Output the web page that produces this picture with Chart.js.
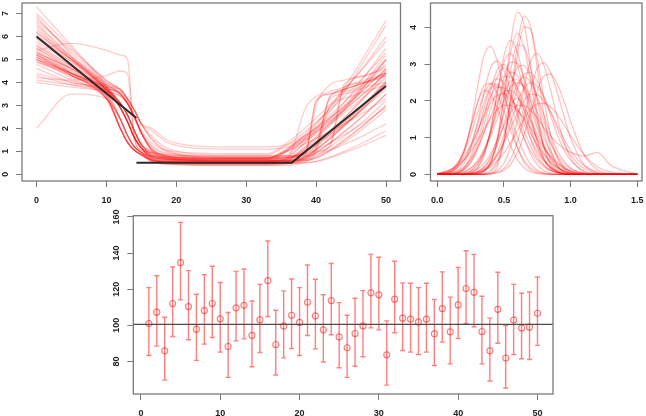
<!DOCTYPE html>
<html>
<head>
<meta charset="utf-8">
<script src="https://cdn.jsdelivr.net/npm/chart.js@4.4.1/dist/chart.umd.min.js"></script>
<style>
  html, body { margin: 0; padding: 0; background: #fff; }
  body { width: 646px; height: 416px; position: relative; overflow: hidden; }
  canvas { position: absolute; }
</style>
</head>
<body>
<canvas id="warp" width="410" height="208" style="left:0;top:0;width:410px;height:208px"></canvas>
<canvas id="dens" width="236" height="208" style="left:410px;top:0;width:236px;height:208px"></canvas>
<canvas id="err" width="470" height="208" style="left:100px;top:208px;width:470px;height:208px"></canvas>
<script>
// ---- panel 1: warped curves + template ----
const warpX = [0, 5, 10, 12, 13, 14, 15, 16.5, 19, 27, 33, 36, 38.5, 40, 42, 44, 47, 50];
const warpCurves = [
  [6.0,4.9,3.7,2.9,2.3,1.6,1.15,.75,.61,.55,.55,.66,1.11,1.45,1.94,2.46,3.36,4.3],
  [5.2,4.4,3.5,2.4,1.7,1.2,.95,.75,.65,.6,.6,.6,.8,1.1,1.56,2.09,2.94,3.9],
  [7.3,5.6,4.0,3.5,3.1,2.5,1.8,1.1,.77,.65,.65,.75,1.05,3.2,3.5,3.7,4.0,4.4],
  [5.0,4.4,3.7,3.1,2.6,1.9,1.3,.95,.78,.7,.7,1.15,1.69,2.06,2.58,3.14,4.04,5.0],
  [2.0,3.5,3.3,2.0,1.4,1.05,.85,.62,.54,.5,.5,.5,.5,.56,.76,1.0,1.42,1.9],
  [6.5,5.1,3.8,2.4,1.7,1.2,.95,.6,.5,.45,.45,.59,1.13,1.54,2.13,2.77,3.86,5.0],
  [5.4,5.7,5.4,5.2,5.05,1.6,1.05,.95,.85,.8,.8,.8,.99,1.28,1.73,2.24,3.07,4.0],
  [4.0,3.8,3.6,3.4,3.1,2.5,1.8,1.25,.92,.8,.8,.8,.8,.86,1.06,1.3,1.72,2.2],
  [6.8,5.3,3.9,2.9,2.3,1.6,1.15,.8,.66,.6,.6,.62,.8,1.2,3.4,3.6,3.9,4.5],
  [5.1,4.3,3.4,2.0,1.4,1.05,.88,.82,.74,.7,.7,1.11,1.6,1.93,2.4,2.91,3.73,4.6],
  [4.9,4.3,3.7,3.6,3.3,2.8,2.2,1.9,1.35,1.1,1.1,1.21,1.66,1.99,2.47,2.99,3.88,4.8],
  [5.3,4.3,3.3,2.0,1.4,1.05,.85,.62,.54,.5,.5,.5,.68,.95,1.37,1.85,2.63,3.5],
  [6.2,5.0,3.8,3.1,2.6,1.9,1.3,.95,.78,.7,.7,.88,1.6,2.14,2.92,3.76,5.2,6.7],
  [4.2,4.1,4.3,4.5,4.4,1.6,1.0,.8,.7,.65,.65,.65,.65,.75,1.08,1.5,2.2,3.0],
  [5.6,4.6,3.6,2.9,2.3,1.6,1.15,.65,.51,.45,.45,.55,.85,3.2,3.5,3.7,4.0,4.4],
  [5.0,4.2,3.3,2.4,1.7,1.2,.95,.55,.45,.4,.4,.5,.91,1.22,1.66,2.13,2.95,3.8],
  [7.0,5.5,4.1,3.7,3.3,2.8,2.2,1.65,1.1,.85,.85,1.32,1.88,2.26,2.8,3.37,4.31,5.3],
  [5.2,4.5,3.8,3.5,3.1,2.5,1.8,1.05,.72,.6,.6,.6,.75,1.0,1.2,3.8,4.0,4.3],
  [4.8,4.1,3.3,2.0,1.4,1.05,.85,.62,.54,.5,.5,.5,.5,.55,.72,.93,1.29,1.7],
  [6.4,5.0,3.7,2.9,2.3,1.6,1.15,.7,.56,.5,.5,1.08,1.77,2.24,2.9,3.62,4.77,6.0],
  [5.5,4.6,3.7,3.1,2.6,1.9,1.3,.8,.63,.55,.55,.55,.76,1.08,1.58,2.15,3.07,4.1],
  [5.9,4.9,3.9,3.5,3.1,2.5,1.8,1.1,.77,.65,.65,1.02,1.47,1.77,2.2,2.66,3.41,4.2],
  [5.0,4.3,3.6,2.9,2.3,1.6,1.15,.78,.64,.58,.58,.67,1.05,1.33,1.73,2.17,2.92,3.7],
  [6.6,5.1,3.6,2.4,1.7,1.2,.95,.65,.55,.5,.5,.52,.7,1.1,3.0,3.3,3.6,3.9],
  [5.3,4.6,3.9,3.7,3.3,2.8,2.2,1.55,1.0,.75,.75,.75,.98,1.31,1.84,2.44,3.41,4.5],
  [4.3,3.9,3.6,3.4,3.1,2.5,1.8,1.2,.87,.75,.75,1.02,1.34,1.56,1.86,2.2,2.73,3.3],
  [5.7,4.7,3.6,2.9,2.3,1.6,1.15,.7,.56,.5,.5,.64,1.21,1.63,2.24,2.9,4.03,5.2],
  [5.1,4.4,3.7,3.1,2.6,1.9,1.3,.87,.7,.62,.62,.72,1.0,3.0,3.9,4.1,4.3,4.6],
  [6.9,5.2,3.6,2.0,1.4,1.05,.85,.67,.59,.55,.55,.55,.76,1.07,1.55,2.1,3.0,4.0],
  [5.4,4.4,3.3,2.4,1.7,1.2,.95,.75,.65,.6,.6,.6,.6,.7,1.01,1.39,2.05,2.8],
  [5.0,4.4,3.7,2.9,2.3,1.6,1.15,.9,.76,.7,.7,.72,.9,1.3,3.4,3.7,4.0,4.3],
  [6.1,5.0,3.8,3.1,2.6,1.9,1.3,.8,.63,.55,.55,.68,1.22,1.62,2.2,2.82,3.89,5.0],
  [5.2,4.3,3.3,2.0,1.4,1.05,.85,.6,.52,.48,.48,.48,.66,.93,1.36,1.84,2.62,3.5],
  [4.9,4.4,3.8,3.7,3.3,2.8,2.2,1.5,.95,.7,.7,1.09,1.55,1.87,2.32,2.8,3.57,4.4],
  [5.8,4.8,3.7,2.9,2.3,1.6,1.15,.72,.58,.52,.52,.55,.7,.95,1.3,3.9,4.3,4.7],
  [5.5,4.5,3.4,2.4,1.7,1.2,.95,.63,.53,.48,.48,.59,1.01,1.32,1.78,2.28,3.12,4.0],
  [6.3,5.1,3.9,3.5,3.1,2.5,1.8,1.1,.77,.65,.65,.8,1.38,1.81,2.44,3.12,4.29,5.5],
  [5.1,4.4,3.6,3.1,2.6,1.9,1.3,.85,.68,.6,.6,.6,.6,.71,1.04,1.46,2.18,3.0],
  [5.3,4.6,3.8,3.5,3.1,2.5,1.8,1.03,.7,.58,.58,.75,2.9,3.4,3.6,3.8,4.1,4.4],
  [5.6,4.7,3.8,2.9,2.3,1.6,1.15,.85,.71,.65,.65,1.04,1.52,1.84,2.29,2.78,3.56,4.4],
  [4.4,4.0,3.6,2.9,2.3,1.6,1.15,.58,.44,.38,.38,.38,.55,.8,1.2,1.65,2.38,3.2],
  [6.0,5.0,4.0,3.7,3.3,2.8,2.2,2.0,1.45,1.2,1.2,1.3,1.71,2.02,2.46,2.93,3.75,4.6],
  [6.7,5.4,4.1,3.6,3.2,2.6,1.9,1.35,1.02,.9,.9,1.41,2.03,2.45,3.04,3.68,4.71,5.8],
  [4.6,4.0,3.4,2.0,1.4,1.05,.85,.54,.46,.42,.42,.45,.62,1.0,3.3,3.5,3.8,4.0],
  [6.2,5.0,3.7,3.1,2.6,1.9,1.3,1.0,.83,.75,.75,.75,.88,1.07,1.37,1.72,2.28,2.9],
  [4.1,3.9,3.7,3.5,3.1,2.5,1.8,1.0,.67,.55,.55,.73,1.44,1.98,2.75,3.58,5.01,6.5]
];
const templateX = [0, 14.3, 14.3, 14.3, 36.5, 50];
const templateY = [6.0, 2.45, null, 0.5, 0.5, 3.85];
const warpXTicks = [0, 10, 20, 30, 40, 50];
const warpYTicks = [0, 1, 2, 3, 4, 5, 6, 7];

// ---- panel 2: densities ----
const densX = [0, .1, .15, .2, .25, .3, .35, .4, .45, .5, .55, .6, .65, .7, .75, .8, .85, .9, .95, 1.0, 1.1, 1.2, 1.3, 1.5];
const densCurves = [
  [0,0,0,0,0,.01,.07,.29,.91,2.11,3.56,4.42,4.11,2.97,1.67,.73,.25,.07,.02,0,0,0,0,0],
  [0,0,0,0,0,0,.01,.07,.29,.89,2.07,3.48,4.32,4.02,2.90,1.63,.71,.24,.07,.01,0,0,0,0],
  [0,0,0,0,0,0,.02,.11,.36,.97,2.0,3.21,4.02,3.95,3.14,2.04,1.07,.46,.16,.05,0,0,0,0],
  [0,.05,.2,.57,1.31,2.33,3.23,3.49,3.09,2.29,1.44,.76,.33,.13,.04,.01,0,0,0,0,0,0,0,0],
  [0,.03,.1,.29,.69,1.38,2.21,2.9,3.09,2.83,2.27,1.62,1.01,.55,.27,.11,.04,.01,0,0,0,0,0,0],
  [0,0,0,.01,.04,.16,.49,1.19,2.22,3.22,3.65,3.34,2.58,1.67,.91,.42,.16,.05,.01,0,0,0,0,0],
  [0,0,0,0,0,.02,.08,.33,.96,2.08,3.29,3.85,3.48,2.54,1.52,.74,.29,.09,.02,0,0,0,0,0],
  [0,0,0,0,0,.02,.09,.32,.85,1.75,2.82,3.53,3.49,2.88,2.01,1.17,.57,.24,.08,.02,0,0,0,0],
  [0,0,0,0,0,0,.01,.03,.1,.31,.74,1.47,2.36,3.09,3.29,2.97,2.3,1.55,.89,.45,.07,.01,0,0],
  [0,0,0,0,0,0,0,.02,.06,.16,.41,.88,1.54,2.3,2.89,3.04,2.78,2.23,1.59,.99,.27,.04,0,0],
  [0,0,0,0,0,0,0,.01,.04,.11,.27,.58,1.06,1.67,2.27,2.68,2.73,2.46,2.0,1.45,.54,.13,.02,0],
  [0,.02,.05,.16,.41,.86,1.52,2.27,2.84,2.99,2.74,2.2,1.57,.98,.53,.26,.11,.04,.01,0,0,0,0,0],
  [.01,.12,.29,.6,1.06,1.64,2.16,2.47,2.46,2.24,1.87,1.42,1.0,.64,.38,.2,.1,.05,.02,.01,0,0,0,0],
  [0,.07,.18,.41,.79,1.34,1.93,2.42,2.6,2.48,2.13,1.67,1.19,.77,.44,.24,.11,.05,.02,.01,0,0,0,0],
  [0,.01,.05,.13,.31,.65,1.14,1.77,2.33,2.67,2.65,2.38,1.94,1.42,.96,.58,.32,.16,.07,.03,0,0,0,0],
  [0,0,.01,.03,.1,.27,.6,1.15,1.83,2.47,2.79,2.7,2.34,1.82,1.25,.78,.43,.21,.1,.04,0,0,0,0],
  [0,0,.02,.07,.16,.35,.68,1.13,1.69,2.21,2.54,2.58,2.36,1.96,1.48,1.0,.62,.35,.18,.08,.01,0,0,0],
  [.01,.07,.18,.37,.7,1.15,1.66,2.12,2.38,2.36,2.15,1.8,1.37,.97,.62,.36,.2,.1,.05,.02,0,0,0,0],
  [0,.04,.09,.2,.4,.71,1.12,1.58,2.0,2.25,2.29,2.13,1.84,1.48,1.09,.75,.47,.28,.15,.08,.02,0,0,0],
  [0,0,.03,.07,.17,.34,.62,1.03,1.52,2.0,2.37,2.5,2.4,2.1,1.7,1.25,.85,.53,.3,.16,.03,0,0,0],
  [0,0,0,0,.02,.07,.18,.42,.81,1.37,1.97,2.46,2.65,2.51,2.12,1.61,1.09,.66,.36,.17,.03,0,0,0],
  [0,0,0,0,.01,.04,.11,.25,.5,.9,1.41,1.94,2.34,2.5,2.4,2.1,1.7,1.25,.85,.53,.16,.03,0,0],
  [.01,.1,.28,.65,1.25,1.92,2.41,2.48,2.2,1.73,1.2,.73,.39,.18,.08,.03,.01,0,0,0,0,0,0,0],
  [0,.01,.04,.13,.33,.72,1.33,2.05,2.66,2.9,2.74,2.32,1.76,1.19,.72,.39,.19,.08,.03,.01,0,0,0,0],
  [0,0,0,.01,.05,.18,.54,1.24,2.2,3.05,3.29,2.97,2.3,1.55,.89,.45,.19,.07,.02,0,0,0,0,0],
  [0,0,0,.03,.09,.25,.58,1.13,1.88,2.62,3.06,3.03,2.64,2.01,1.35,.81,.42,.19,.08,.02,0,0,0,0],
  [0,0,0,0,.02,.07,.2,.47,.98,1.67,2.4,2.91,2.97,2.65,2.07,1.44,.87,.47,.22,.09,.01,0,0,0],
  [0,0,0,0,.01,.04,.11,.28,.58,1.08,1.7,2.31,2.73,2.78,2.54,2.11,1.6,1.08,.67,.38,.09,.01,0,0],
  [0,0,0,.01,.03,.05,.11,.21,.37,.58,.86,1.18,1.51,1.77,1.92,1.94,1.84,1.63,1.36,1.06,.54,.21,.07,0],
  [0,0,0,.02,.06,.14,.29,.55,.92,1.31,1.68,1.88,1.88,1.75,1.54,1.27,1.05,.85,.7,.6,.5,.6,.25,0],
  [.02,.13,.26,.48,.78,1.16,1.58,1.94,2.16,2.19,2.05,1.8,1.48,1.12,.8,.54,.33,.19,.1,.05,.01,0,0,0],
  [0,.01,.05,.17,.49,1.05,1.78,2.34,2.42,2.12,1.6,1.04,.59,.28,.12,.04,.01,0,0,0,0,0,0,0],
  [0,0,0,0,0,0,0,.02,.2,.87,1.85,2.07,1.77,1.27,.77,.39,.17,.06,.02,0,0,0,0,0],
  [0,0,0,.01,.03,.07,.15,.3,.53,.85,1.25,1.66,2.0,2.18,2.17,2.0,1.7,1.34,.97,.65,.24,.06,.01,0],
  [.01,.08,.25,.64,1.26,1.92,2.29,2.19,1.81,1.28,.79,.41,.19,.07,.02,.01,0,0,0,0,0,0,0,0],
  [.02,.13,.23,.39,.62,.9,1.22,1.52,1.76,1.89,1.88,1.75,1.54,1.27,.98,.71,.49,.31,.19,.11,.03,0,0,0]
];
const densXTicks = [0, 0.5, 1.0, 1.5];
const densYTicks = [0, 1, 2, 3, 4];

// ---- panel 3: estimates with intervals ----
const errX = [1,2,3,4,5,6,7,8,9,10,11,12,13,14,15,16,17,18,19,20,21,22,23,24,25,
              26,27,28,29,30,31,32,33,34,35,36,37,38,39,40,41,42,43,44,45,46,47,48,49,50];
const errMean = [101.0,107.3,85.9,112.1,134.7,110.4,97.9,108.2,112.1,103.6,88.3,109.7,111.1,94.4,103.0,
                 124.8,89.4,99.7,105.6,101.6,112.8,105.3,97.5,113.7,93.6,87.6,95.5,99.7,118.0,116.9,
                 83.7,114.5,104.0,103.4,101.9,103.4,95.3,109.3,96.4,111.3,120.4,118.3,96.6,85.9,108.9,
                 81.9,102.9,98.6,99.0,106.7];
const errUpper = [120.9,127.5,104.5,132.3,157.0,130.3,117.2,128.1,132.7,123.7,107.1,129.9,131.2,113.5,122.7,
                  146.7,108.4,119.1,125.7,120.9,133.4,125.5,116.9,134.2,112.6,105.6,115.0,119.2,139.3,137.7,
                  102.5,135.5,123.5,123.3,120.9,123.3,114.3,129.6,115.6,132.0,141.3,139.3,116.1,104.0,129.4,
                  99.9,122.7,117.8,118.5,126.8];
const errLower = [83.3,88.5,69.7,93.8,114.1,92.0,80.6,89.6,93.3,85.2,71.2,91.4,92.5,77.1,85.0,
                  104.9,72.5,82.0,87.2,83.3,94.4,87.0,79.7,94.8,76.5,71.2,77.4,82.6,98.6,97.5,
                  66.9,95.9,86.1,85.2,83.9,85.2,77.8,90.7,78.7,92.7,101.0,99.2,78.7,69.2,90.1,
                  65.3,83.9,81.5,81.1,88.9];
const errRef = 100.5;
const errXTicks = [0, 10, 20, 30, 40, 50];
const errYTicks = [80, 100, 120, 140, 160];

// ---- shared styling ----
const FONT = { family: '"Liberation Sans", Arial, sans-serif', size: 9, weight: 'bold' };
const BOX = '#7a7a7a';
const RED = 'rgba(255,0,0,0.2)';

function axis(min, max, ticks, size, fmt, showLabels) {
  return {
    type: 'linear', min: min, max: max,
    afterBuildTicks: s => { s.ticks = ticks.map(v => ({ value: v })); },
    afterFit: s => {
      // fixed axis size, and no extra room for label overhang
      if (s.isHorizontal()) { s.height = size; s.paddingLeft = 0; s.paddingRight = 0; }
      else { s.width = size; s.paddingTop = 0; s.paddingBottom = 0; }
    },
    grid: { drawOnChartArea: false, drawTicks: true, tickLength: 6, color: BOX, lineWidth: 1 },
    border: { display: false },
    ticks: { display: showLabels, padding: 8, color: '#222', font: FONT,
             autoSkip: false, maxRotation: 0, callback: v => fmt(v) }
  };
}

// box around the plot region and rotated y labels, R style
function frame(yTicks, fmt) {
  return {
    id: 'frame',
    afterDraw(chart) {
      const { ctx, chartArea: a } = chart;
      const y = chart.scales.y;
      ctx.save();
      ctx.strokeStyle = BOX;
      ctx.lineWidth = 1.3;
      ctx.strokeRect(a.left, a.top, a.right - a.left, a.bottom - a.top);
      ctx.fillStyle = '#222';
      ctx.font = 'bold ' + FONT.size + 'px ' + FONT.family;
      ctx.textAlign = 'center';
      ctx.textBaseline = 'middle';
      yTicks.forEach(v => {
        ctx.save();
        ctx.translate(a.left - 16.5, y.getPixelForValue(v));
        ctx.rotate(-Math.PI / 2);
        ctx.fillText(fmt(v), 0, 0);
        ctx.restore();
      });
      ctx.restore();
    }
  };
}

const base = {
  responsive: false, animation: false, events: [],
  plugins: { legend: { display: false }, tooltip: { enabled: false } }
};

// panel 1
new Chart(document.getElementById('warp'), {
  type: 'line',
  data: {
    datasets: [{
      data: templateX.map((x, i) => ({ x: x, y: templateY[i] })),
      borderColor: '#2b2b2b', borderWidth: 2, pointRadius: 0, tension: 0, spanGaps: false, order: 0
    }].concat(warpCurves.map(c => ({
      data: c.map((y, i) => ({ x: warpX[i], y: y })),
      borderColor: RED, borderWidth: 1.3, pointRadius: 0,
      cubicInterpolationMode: 'monotone', order: 1
    })))
  },
  options: Object.assign({}, base, {
    layout: { padding: { left: 0, top: 3, right: 9.5, bottom: 0 } },
    scales: {
      x: axis(-2.07, 52.07, warpXTicks, 27, v => String(v), true),
      y: axis(-0.29, 7.46, warpYTicks, 22, v => String(v), false)
    }
  }),
  plugins: [frame(warpYTicks, v => String(v))]
});

// panel 2
new Chart(document.getElementById('dens'), {
  type: 'line',
  data: {
    datasets: densCurves.map(c => ({
      data: c.map((y, i) => ({ x: densX[i], y: y })),
      borderColor: 'rgba(255,0,0,0.24)', borderWidth: 1.3, pointRadius: 0,
      cubicInterpolationMode: 'monotone'
    }))
  },
  options: Object.assign({}, base, {
    layout: { padding: { left: 0, top: 3, right: 4, bottom: 0 } },
    scales: {
      x: axis(-0.05, 1.535, densXTicks, 27, v => v.toFixed(1), true),
      y: axis(-0.18, 4.67, densYTicks, 20.5, v => String(v), false)
    }
  }),
  plugins: [frame(densYTicks, v => String(v))]
});

// panel 3
const errorBars = {
  id: 'errorBars',
  beforeDatasetsDraw(chart) {
    const { ctx } = chart;
    const x = chart.scales.x, y = chart.scales.y;
    ctx.save();
    ctx.strokeStyle = 'rgba(255,0,0,0.5)';
    ctx.lineWidth = 1.4;
    errX.forEach((t, i) => {
      const px = x.getPixelForValue(t);
      const top = y.getPixelForValue(errUpper[i]);
      const bot = y.getPixelForValue(errLower[i]);
      ctx.beginPath();
      ctx.moveTo(px, top); ctx.lineTo(px, bot);
      ctx.moveTo(px - 2.5, top); ctx.lineTo(px + 2.5, top);
      ctx.moveTo(px - 2.5, bot); ctx.lineTo(px + 2.5, bot);
      ctx.stroke();
    });
    ctx.restore();
  }
};

new Chart(document.getElementById('err'), {
  type: 'line',
  data: {
    datasets: [{
      data: [{ x: -5, y: errRef }, { x: 60, y: errRef }],
      borderColor: '#4a4a4a', borderWidth: 1.3, pointRadius: 0, order: 0
    }, {
      data: errX.map((x, i) => ({ x: x, y: errMean[i] })),
      showLine: false, pointRadius: 3, pointBorderWidth: 1.2,
      pointBorderColor: 'rgba(255,0,0,0.5)', pointBackgroundColor: 'rgba(0,0,0,0)', order: 1
    }]
  },
  options: Object.assign({}, base, {
    layout: { padding: { left: 0, top: 7.7, right: 17, bottom: 0 } },
    scales: {
      x: axis(-0.96, 51.96, errXTicks, 22, v => String(v), true),
      y: axis(62, 160.7, errYTicks, 33.3, v => String(v), false)
    }
  }),
  plugins: [errorBars, frame(errYTicks, v => String(v))]
});
</script>
</body>
</html>
